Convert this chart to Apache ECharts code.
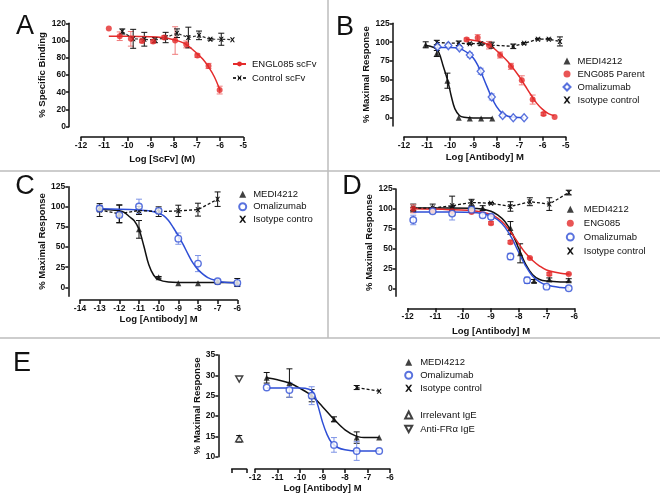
<!DOCTYPE html>
<html>
<head>
<meta charset="utf-8">
<script src="https://cdn.jsdelivr.net/npm/echarts@6.0.0/dist/echarts.min.js"></script>
<style>
  html, body { margin: 0; padding: 0; background: #fff; }
  #chart { width: 660px; height: 504px; }
</style>
</head>
<body>
<div id="chart"></div>
<script>
// ---------- data ----------
// A: competition binding
const aEngX = [-10.8, -10.33, -9.85, -9.37, -8.89, -8.41, -7.94, -7.46, -6.98, -6.5, -6.02];
const aEngY = [114, 105, 102, 99.5, 99, 103.5, 100, 95.5, 82.5, 70.5, 42.5];
const aEngE = [0, 5, 8.5, 2, 2, 2, 16, 4, 2, 3, 4.5];
const aEngFitX = [-10.8, -10, -9, -8.5, -8, -7.5, -7, -6.75, -6.5, -6.25, -6.0];
const aEngFitY = [105, 105, 104.5, 103.5, 101, 96, 85, 78.5, 69.5, 58, 42];
const aCtlX = [-10.22, -9.75, -9.27, -8.81, -8.35, -7.86, -7.37, -6.91, -6.42, -5.95, -5.47];
const aCtlY = [110.5, 102, 101.5, 100.5, 103.5, 108.5, 103.5, 106, 101.5, 101.5, 101];
const aCtlE = [3, 11, 8, 3, 6, 5, 12, 5, 1, 7, 0];

// B
const bMedX = [-11.06, -10.58, -10.12, -9.63, -9.15, -8.66, -8.18];
const bMedY = [96.5, 85, 49, 0, -1, -1, -1];
const bMedE = [4, 4, 10, 0, 0, 0, 0];
const bMedFitX = [-11.1, -10.7, -10.5, -10.3, -10.1, -9.95, -9.8, -9.6, -9.4, -9.0, -8.18];
const bMedFitY = [96, 93, 87, 68, 48, 28, 12, 3, 0.5, -0.5, -0.5];
const bOmaX = [-10.55, -10.08, -9.6, -9.15, -8.68, -8.2, -7.73, -7.27, -6.8];
const bOmaY = [94, 95.5, 92.5, 83, 61.5, 27.5, 3, 0, 0];
const bOmaE = [2, 2, 2, 3, 4, 4, 2, 0, 0];
const bOmaFitX = [-10.6, -10, -9.6, -9.3, -9.0, -8.75, -8.5, -8.25, -8.0, -7.75, -7.5, -7.2, -6.8];
const bOmaFitY = [93, 93, 91.5, 87, 79, 66, 48, 30, 15, 6, 2, 0.5, 0];
const bEngX = [-9.29, -8.81, -8.32, -7.84, -7.37, -6.9, -6.43, -5.96, -5.48];
const bEngY = [103.5, 106, 96, 83, 68, 49.5, 24, 5, 1];
const bEngE = [2, 4, 5, 4, 4, 6, 6, 2, 0];
const bEngFitX = [-9.3, -8.8, -8.3, -8.0, -7.5, -7.0, -6.75, -6.5, -6.25, -6, -5.75, -5.5];
const bEngFitY = [104, 101.5, 96, 89, 74, 54, 42, 30, 19, 11, 5.5, 2.5];
const bIsoX = [-10.58, -9.63, -9.15, -8.68, -8.2, -7.27, -6.8, -6.2, -5.73, -5.25];
const bIsoY = [99.5, 98.5, 98, 98, 96, 94.5, 98.5, 104, 104, 101];
const bIsoE = [3, 3, 1, 2, 4, 3, 1, 1, 1, 6];

// C
const cX = [-13, -12, -11, -10, -9, -8, -7, -6];
const cMedY = [98, 91, 72, 12.5, 5, 5, 7, 6];
const cMedE = [3, 11, 11, 1, 0, 0, 2, 5];
const cMedFitX = [-13, -12.5, -12, -11.75, -11.5, -11.25, -11, -10.75, -10.5, -10.25, -10, -9.5, -9, -6];
const cMedFitY = [97, 96.5, 95, 93, 88, 83, 72, 51, 28, 15, 9.5, 6.5, 6, 6];
const cOmaY = [98, 90, 100.5, 95, 60.5, 29.5, 7.5, 5.5];
const cOmaE = [4, 3, 9, 3, 7, 10, 2, 2];
const cOmaFitX = [-13, -12, -11, -10.5, -10, -9.75, -9.5, -9.25, -9, -8.75, -8.5, -8.25, -8, -7.5, -7, -6.5, -6];
const cOmaFitY = [97.5, 97, 96, 95, 92, 89, 83, 74, 64, 53, 41, 30, 22, 12, 8, 6, 5.5];
const cIsoX = [-13, -12, -11, -10, -9, -8, -7];
const cIsoY = [96, 91.5, 95.5, 94, 95, 96.5, 109.5];
const cIsoE = [8, 11, 5, 6, 7, 8, 9];

// D
const dX = [-11.8, -11.1, -10.4, -9.7, -9.0, -8.3, -7.6, -6.9, -6.2];
const dIsoY = [101, 101, 104, 108, 107, 103, 109, 106, 120.5];
const dIsoE = [5, 5, 12, 4, 1, 6, 5, 8, 3];
const dEngY = [100, 98, 97, 96, 82, 58, 38, 18, 18];
const dEngE = [5, 1, 1, 1, 2, 2, 1, 2, 1];
const dMedX = [-11.8, -11.1, -10.4, -9.7, -9.3, -8.3, -7.95, -7.45, -6.9, -6.2];
const dMedY = [100, 98, 101, 101, 101, 76, 44, 9, 11, 10];
const dMedE = [2, 2, 2, 2, 3, 8, 12, 2, 2, 2];
const dOmaX = [-11.8, -11.1, -10.4, -9.7, -9.3, -9.0, -8.3, -7.7, -7.0, -6.2];
const dOmaY = [86, 97, 94, 99, 92, 90, 40, 10, 2, 0];
const dOmaE = [6, 2, 8, 3, 3, 3, 4, 4, 2, 2];
const dFitX = [-11.8, -10.5, -9.5, -9.0, -8.75, -8.5, -8.25, -8.0, -7.75, -7.5, -7.25, -7.0, -6.5, -6.2];
const dMedFitY = [101, 101, 100.5, 97, 92, 84, 70, 50, 30, 17, 11, 9, 8, 8];
const dEngFitY = [100, 99, 97, 93, 88, 80, 69, 56, 44, 35, 28, 23, 19, 18];
const dOmaFitY = [96, 96, 95, 91, 86, 77, 63, 45, 28, 15, 8, 4, 1, 0.5];

// E
const eX = [-11.48, -10.47, -9.48, -8.49, -7.48, -6.48];
const eMedY = [29.4, 28.1, 25, 19.2, 14.7, 14.7];
const eMedE = [1.3, 3.5, 1.5, 0.6, 1.4, 0];
const eMedFitX = [-11.48, -11, -10.47, -10, -9.48, -9, -8.49, -8, -7.48, -7, -6.48];
const eMedFitY = [29.4, 28.9, 28.1, 26.8, 25, 22.3, 19.2, 16.6, 15, 14.7, 14.7];
const eOmaY = [27, 26.4, 25, 12.9, 11.4, 11.4];
const eOmaE = [0, 1.8, 2.2, 1.8, 2.3, 0];
const eOmaFitX = [-11.48, -10, -9.6, -9.4, -9.2, -9.0, -8.8, -8.6, -8.3, -8.0, -7.48, -6.48];
const eOmaFitY = [26.9, 26.9, 26.6, 25.7, 22.5, 18.5, 15.5, 13.5, 12.2, 11.7, 11.4, 11.4];
const eIsoX = [-7.48, -6.48];
const eIsoY = [27, 26.1];
const eIsoE = [0.5, 0];
const eIrrY = 14.4, eIrrE = 0.8;
const eFraY = 29.1;

// ---------- helpers ----------
const FONT = '"Liberation Sans", Arial, sans-serif';
const RED = '#e42b2b', RED_ERR = '#ef7b7b', BLUE = '#2f4fd6', BLUE_ERR = '#7d93e6', BLK = '#111';
const X_SYM = 'path://M0,0 L2.6,0 L5,3.2 L7.4,0 L10,0 L6.4,5 L10,10 L7.4,10 L5,6.8 L2.6,10 L0,10 L3.6,5 Z';
const TRI_DOWN = 'path://M0,0 L10,0 L5,9 Z';

const zip = (xs, ys) => xs.map((x, i) => [x, ys[i]]);

function pts(name, gi, xs, ys, symbol, size, color, hollow) {
  return {
    type: 'scatter', name, xAxisIndex: gi, yAxisIndex: gi, data: zip(xs, ys),
    symbol, symbolSize: size, z: 6, silent: true,
    itemStyle: hollow ? { color: '#fff', borderColor: color, borderWidth: 1.4 } : { color }
  };
}

function fit(name, gi, xs, ys, color, extra) {
  return Object.assign({
    type: 'line', name, xAxisIndex: gi, yAxisIndex: gi, data: zip(xs, ys),
    smooth: 0.35, showSymbol: false, symbol: 'none', z: 4, silent: true,
    lineStyle: { color, width: 1.5 }
  }, extra || {});
}

function dashed(name, gi, xs, ys) {
  return {
    type: 'line', name, xAxisIndex: gi, yAxisIndex: gi, data: zip(xs, ys),
    symbol: X_SYM, symbolSize: 5, showSymbol: true, z: 5, silent: true,
    itemStyle: { color: BLK }, lineStyle: { color: BLK, width: 1.3, type: [3, 2] }
  };
}

function errs(gi, xs, ys, es, color) {
  const data = [];
  xs.forEach((x, i) => { if (es[i] > 0) data.push([x, ys[i] - es[i], ys[i] + es[i]]); });
  return {
    type: 'custom', xAxisIndex: gi, yAxisIndex: gi, data, z: 3, silent: true,
    encode: { x: 0, y: [1, 2] },
    renderItem: (params, api) => {
      const x = api.value(0);
      const a = api.coord([x, api.value(2)]), b = api.coord([x, api.value(1)]);
      const st = { stroke: color, lineWidth: 1 };
      return {
        type: 'group', children: [
          { type: 'line', shape: { x1: a[0], y1: a[1], x2: b[0], y2: b[1] }, style: st },
          { type: 'line', shape: { x1: a[0] - 3, y1: a[1], x2: a[0] + 3, y2: a[1] }, style: st },
          { type: 'line', shape: { x1: b[0] - 3, y1: b[1], x2: b[0] + 3, y2: b[1] }, style: st }
        ]
      };
    }
  };
}

function zeroLine(gi, x0, x1) {
  return {
    type: 'line', xAxisIndex: gi, yAxisIndex: gi, data: [], silent: true,
    markLine: {
      silent: true, symbol: 'none', label: { show: false }, animation: false,
      lineStyle: { type: 'dotted', color: '#888', width: 1 },
      data: [[{ coord: [x0, 0] }, { coord: [x1, 0] }]]
    }
  };
}

const axLine = { show: true, onZero: false, lineStyle: { color: BLK, width: 1.5 } };
const tickLbl = { fontFamily: FONT, fontWeight: 'bold', fontSize: 8.5, color: BLK };
const nameTs = { fontFamily: FONT, fontWeight: 'bold', fontSize: 9.5, color: BLK };

function xAx(gi, min, max, offset, name, nameGap) {
  return {
    type: 'value', gridIndex: gi, min, max, interval: 1, offset,
    name, nameLocation: 'middle', nameGap, nameTextStyle: nameTs,
    axisLine: axLine,
    axisTick: { show: true, length: 4, lineStyle: { color: BLK, width: 1.5 } },
    axisLabel: Object.assign({ margin: 4 }, tickLbl),
    splitLine: { show: false }
  };
}

function yAx(gi, min, max, ticks, offset, name, nameGap) {
  return {
    type: 'value', gridIndex: gi, min, max, offset,
    name, nameLocation: 'middle', nameGap, nameTextStyle: nameTs,
    axisLine: axLine,
    axisTick: { show: true, length: 3, customValues: ticks, lineStyle: { color: BLK, width: 1.5 } },
    axisLabel: Object.assign({ margin: 3, customValues: ticks }, tickLbl),
    splitLine: { show: false }
  };
}

// icons are square (7x7); pad shifts the text to where the figure has it
function legend(left, top, step, pad, names) {
  return {
    left, top, orient: 'vertical', itemWidth: 7, itemHeight: 7, itemGap: step - 12,
    padding: 0, selectedMode: false,
    formatter: (n) => n.replace(/ [A-E]$/, ''),
    textStyle: { fontFamily: FONT, fontSize: 9.5, color: BLK, lineHeight: 12, padding: [0, 0, 0, pad] },
    data: names
  };
}

const grids = [
  { left: 81, top: 23.3, width: 162.3, height: 103.4 },   // A
  { left: 404, top: 23.3, width: 161.7, height: 102.7 },  // B
  { left: 80, top: 186.7, width: 157.3, height: 109.5 },  // C
  { left: 407.7, top: 189, width: 166.6, height: 107.2 }, // D
  { left: 255, top: 355, width: 135, height: 101.7 },     // E main
  { left: 231.7, top: 355, width: 15, height: 101.7 }     // E controls
];

const xAxes = [
  xAx(0, -12, -5, 10.3, 'Log [ScFv] (M)', 17.5),
  xAx(1, -12, -5, 10.7, 'Log [Antibody] M', 16),
  xAx(2, -14, -6, 3.8, 'Log [Antibody] M', 14.5),
  xAx(3, -12, -6, 12.1, 'Log [Antibody] M', 18.5),
  xAx(4, -12, -6, 12.3, 'Log [Antibody] M', 14.5),
  {
    type: 'value', gridIndex: 5, min: 0, max: 2, offset: 12.3,
    axisLine: axLine,
    axisTick: { show: true, length: 4, customValues: [0, 2], lineStyle: { color: BLK, width: 1.5 } },
    axisLabel: { show: false }, splitLine: { show: false }
  }
];

const yAxes = [
  yAx(0, 0, 120, [0, 20, 40, 60, 80, 100, 120], 12, '% Specific Binding', 21.5),
  yAx(1, -11, 125, [0, 25, 50, 75, 100, 125], 11.3, '% Maximal Response', 20.5),
  yAx(2, -11, 125, [0, 25, 50, 75, 100, 125], 11.7, '% Maximal Response', 20.8),
  yAx(3, -10, 125, [0, 25, 50, 75, 100, 125], 12, '% Maximal Response', 19.5),
  { type: 'value', gridIndex: 4, min: 10, max: 35, show: false },
  yAx(5, 10, 35, [10, 15, 20, 25, 30, 35], 13.4, '% Maximal Response', 14.5)
];

const series = [
  // A
  errs(0, aEngX, aEngY, aEngE, RED_ERR),
  errs(0, aCtlX, aCtlY, aCtlE, BLK),
  fit('ENGL085 scFv A', 0, aEngFitX, aEngFitY, RED, { symbol: 'circle', symbolSize: 6, itemStyle: { color: RED } }),
  pts('ENGL085 pts A', 0, aEngX, aEngY, 'circle', 6, RED, false),
  Object.assign(dashed('Control scFv A', 0, aCtlX, aCtlY), { lineStyle: { color: '#333', width: 1.2, type: [3, 2] } }),
  // B
  zeroLine(1, -12.5, -5),
  errs(1, bMedX, bMedY, bMedE, BLK),
  errs(1, bOmaX, bOmaY, bOmaE, BLUE_ERR),
  errs(1, bEngX, bEngY, bEngE, RED_ERR),
  errs(1, bIsoX, bIsoY, bIsoE, BLK),
  fit('bMedFit', 1, bMedFitX, bMedFitY, BLK),
  fit('bOmaFit', 1, bOmaFitX, bOmaFitY, BLUE),
  fit('bEngFit', 1, bEngFitX, bEngFitY, RED),
  dashed('Isotype control B', 1, bIsoX, bIsoY),
  pts('MEDI4212 B', 1, bMedX, bMedY, 'triangle', 6, BLK, false),
  pts('ENG085 Parent B', 1, bEngX, bEngY, 'circle', 6, RED, false),
  pts('Omalizumab B', 1, bOmaX, bOmaY, 'diamond', [7, 8], BLUE, true),
  // C
  zeroLine(2, -14.6, -6),
  errs(2, cX, cMedY, cMedE, BLK),
  errs(2, cX, cOmaY, cOmaE, BLUE_ERR),
  errs(2, cIsoX, cIsoY, cIsoE, BLK),
  fit('cMedFit', 2, cMedFitX, cMedFitY, BLK),
  fit('cOmaFit', 2, cOmaFitX, cOmaFitY, BLUE),
  dashed('Isotype contro C', 2, cIsoX, cIsoY),
  pts('MEDI4212 C', 2, cX, cMedY, 'triangle', 6, BLK, false),
  pts('Omalizumab C', 2, cX, cOmaY, 'circle', 6.5, BLUE, true),
  // D
  zeroLine(3, -12.4, -6),
  errs(3, dX, dIsoY, dIsoE, BLK),
  errs(3, dX, dEngY, dEngE, RED_ERR),
  errs(3, dMedX, dMedY, dMedE, BLK),
  errs(3, dOmaX, dOmaY, dOmaE, BLUE_ERR),
  fit('dMedFit', 3, dFitX, dMedFitY, BLK),
  fit('dEngFit', 3, dFitX, dEngFitY, RED),
  fit('dOmaFit', 3, dFitX, dOmaFitY, BLUE),
  dashed('Isotype control D', 3, dX, dIsoY),
  pts('MEDI4212 D', 3, dMedX, dMedY, 'triangle', 6, BLK, false),
  pts('ENG085 D', 3, dX, dEngY, 'circle', 6, RED, false),
  pts('Omalizumab D', 3, dOmaX, dOmaY, 'circle', 6.5, BLUE, true),
  // E
  errs(4, eX, eMedY, eMedE, BLK),
  errs(4, eX, eOmaY, eOmaE, BLUE_ERR),
  errs(4, eIsoX, eIsoY, eIsoE, BLK),
  fit('eMedFit', 4, eMedFitX, eMedFitY, BLK),
  fit('eOmaFit', 4, eOmaFitX, eOmaFitY, BLUE),
  dashed('Isotype control E', 4, eIsoX, eIsoY),
  pts('MEDI4212 E', 4, eX, eMedY, 'triangle', 6, BLK, false),
  pts('Omalizumab E', 4, eX, eOmaY, 'circle', 6.5, BLUE, true),
  errs(5, [1], [eIrrY], [eIrrE], BLK),
  pts('Irrelevant IgE E', 5, [1], [eIrrY], 'triangle', [7, 6], BLK, true),
  pts('Anti-FR\u03b1 IgE E', 5, [1], [eFraY], TRI_DOWN, [7, 6], BLK, true)
];

const legends = [
  {
    left: 232, top: 58, orient: 'vertical', itemWidth: 13, itemHeight: 6, itemGap: 2,
    padding: 0, selectedMode: false,
    formatter: (n) => n.replace(/ [A-E]$/, ''),
    textStyle: { fontFamily: FONT, fontSize: 9.5, color: BLK, lineHeight: 12, padding: [0, 0, 0, 1] },
    data: ['ENGL085 scFv A', 'Control scFv A']
  },
  legend(562.5, 55, 13, 2, ['MEDI4212 B', 'ENG085 Parent B', 'Omalizumab B', { name: 'Isotype control B', icon: X_SYM }]),
  legend(238.2, 188.3, 12.5, 2, ['MEDI4212 C', 'Omalizumab C', { name: 'Isotype contro C', icon: X_SYM }]),
  legend(565.8, 203.3, 13.9, 5, ['MEDI4212 D', 'ENG085 D', 'Omalizumab D', { name: 'Isotype control D', icon: X_SYM }]),
  legend(404.2, 356.3, 13, 3, ['MEDI4212 E', 'Omalizumab E', { name: 'Isotype control E', icon: X_SYM }]),
  legend(404.2, 409, 14, 3, ['Irrelevant IgE E', { name: 'Anti-FR\u03b1 IgE E', icon: TRI_DOWN }])
];

const letter = (t, x, y) => ({
  type: 'text', x, y, silent: true,
  style: { text: t, fontSize: 27, fontFamily: FONT, fill: BLK, align: 'center', verticalAlign: 'middle' }
});
const divider = (x1, y1, x2, y2) => ({
  type: 'line', silent: true, shape: { x1, y1, x2, y2 }, style: { stroke: '#bdbdbd', lineWidth: 1.5 }
});

const chart = echarts.init(document.getElementById('chart'));
chart.setOption({
  animation: false,
  backgroundColor: '#fff',
  grid: grids,
  xAxis: xAxes,
  yAxis: yAxes,
  legend: legends,
  series,
  graphic: [
    divider(328, 0, 328, 338),
    divider(0, 171, 660, 171),
    divider(0, 338, 660, 338),
    letter('A', 25, 27),
    letter('B', 345, 28),
    letter('C', 25, 187),
    letter('D', 352, 187),
    letter('E', 22, 364)
  ]
});
</script>
</body>
</html>
